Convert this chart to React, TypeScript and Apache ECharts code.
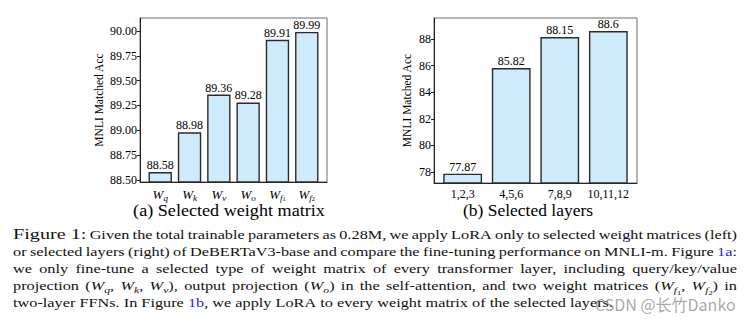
import React, { useEffect, useRef } from "react";
import * as echarts from "echarts";

// ---------- data ----------
const weightLabels = ["W_q", "W_k", "W_v", "W_o", "W_f1", "W_f2"];
const weightAcc = [88.58, 88.98, 89.36, 89.28, 89.91, 89.99];
const weightTicks = [88.5, 88.75, 89.0, 89.25, 89.5, 89.75, 90.0];

const layerLabels = ["1,2,3", "4,5,6", "7,8,9", "10,11,12"];
const layerAcc = [77.87, 85.82, 88.15, 88.6];
const layerTicks = [78, 80, 82, 84, 86, 88];

const yName = "MNLI Matched Acc";
const subtitleA = "(a) Selected weight matrix";
const subtitleB = "(b) Selected layers";
const watermark = "CSDN @长竹Danko";

const captionLines = [
  "{fig:Figure~1:} Given the total trainable parameters as 0.28M, we apply LoRA only to selected weight matrices (left)",
  "or selected layers (right) of DeBERTaV3-base and compare the fine-tuning performance on MNLI-m. Figure {link:1a}:",
  "we only fine-tune a selected type of weight matrix of every transformer layer, including query/key/value",
  "projection ({i:W}{sub:q}, {i:W}{sub:k}, {i:W}{sub:v}), output projection ({i:W}{sub:o}) in the self-attention, and two weight matrices ({i:W}{sub:f}{sub2:1}, {i:W}{sub:f}{sub2:2}) in",
  "two-layer FFNs. In Figure {link:1b}, we apply LoRA to every weight matrix of the selected layers.",
];

// ---------- helpers ----------
const SERIF = "Liberation Serif";

type SegKey = "n" | "fig" | "link" | "i" | "sub" | "sub2";
const segStyle: Record<SegKey, { size: number; italic: boolean; fill: string; dy: number }> = {
  n: { size: 12.5, italic: false, fill: "#111", dy: 0 },
  fig: { size: 15.5, italic: false, fill: "#111", dy: 0 },
  link: { size: 12.5, italic: false, fill: "#2222ee", dy: 0 },
  i: { size: 12.5, italic: true, fill: "#111", dy: 0 },
  sub: { size: 9, italic: true, fill: "#111", dy: 2.8 },
  sub2: { size: 6.5, italic: false, fill: "#111", dy: 4.8 },
};

function makeMeasure() {
  const canvas = document.createElement("canvas");
  const ctx = canvas.getContext("2d")!;
  return (t: string, size: number, italic = false) => {
    ctx.font = `${italic ? "italic " : ""}${size}px "${SERIF}"`;
    return ctx.measureText(t).width;
  };
}

function parseWord(w: string) {
  const segs: { k: SegKey; t: string }[] = [];
  const re = /\{(\w+):([^}]*)\}|([^{]+)/g;
  let m: RegExpExecArray | null;
  while ((m = re.exec(w))) {
    if (m[1]) segs.push({ k: m[1] as SegKey, t: m[2].replace(/~/g, " ") });
    else segs.push({ k: "n", t: m[3] });
  }
  return segs;
}

function buildCaption(): any[] {
  const mm = makeMeasure();
  const measure = (t: string, k: SegKey) => mm(t, segStyle[k].size, segStyle[k].italic);
  const left = 13;
  const right = 737;
  const lastWidthTarget = 600;
  const spaceW = measure(" ", "n");
  const lines = captionLines.map((l) =>
    l.split(" ").map((w) => {
      const segs = parseWord(w);
      const widths = segs.map((s) => measure(s.t, s.k));
      return { segs, widths, width: widths.reduce((a, b) => a + b, 0) };
    })
  );
  const last = lines[lines.length - 1];
  const lastNatural =
    last.reduce((a, w) => a + w.width, 0) + spaceW * (last.length - 1);
  const sx = lastWidthTarget / lastNatural;

  const els: any[] = [];
  lines.forEach((words, li) => {
    const baseline = 239 + li * 17.1;
    const total = words.reduce((a, w) => a + w.width, 0) * sx;
    const isLast = li === lines.length - 1;
    const gap = isLast ? spaceW * sx : (right - left - total) / (words.length - 1);
    let x = left;
    words.forEach((w) => {
      let sxPos = x;
      w.segs.forEach((s, si) => {
        const st = segStyle[s.k];
        els.push({
          type: "text",
          x: sxPos,
          y: baseline - 0.34 * st.size + st.dy,
          scaleX: sx,
          silent: true,
          style: {
            text: s.t,
            fontSize: st.size,
            fontFamily: SERIF,
            fontStyle: st.italic ? "italic" : "normal",
            fill: st.fill,
            align: "left",
            verticalAlign: "middle",
          },
        });
        sxPos += w.widths[si] * sx;
      });
      x += w.width * sx + gap;
    });
  });
  return els;
}

function subtitle(text: string, cx: number, targetWidth: number) {
  const mm = makeMeasure();
  const size = 16;
  const sx = targetWidth / mm(text, size);
  return {
    type: "text",
    x: cx,
    y: 211,
    scaleX: sx,
    silent: true,
    style: { text, fontSize: size, fontFamily: SERIF, fill: "#000", align: "center", verticalAlign: "middle" },
  };
}

function mathLabel(l: string) {
  const m = l.match(/^W_([a-z])(\d?)$/);
  if (!m) return l;
  return `{w|W}{s|${m[1]}}` + (m[2] ? `{ss|${m[2]}}` : "");
}

const barStyle = {
  color: "#cfeafb",
  borderColor: "#2b2b2b",
  borderWidth: 1.4,
};

export default function App() {
  const ref = useRef<HTMLDivElement>(null);

  useEffect(() => {
    if (!ref.current) return;
    const chart = echarts.init(ref.current, undefined, { renderer: "svg" });

    const leftGrid = { left: 140, top: 18, width: 187, height: 164 };
    const rightGrid = { left: 434, top: 18, width: 203, height: 165 };

    const commonGrid = {
      show: true,
      borderColor: "#6a6a6a",
      borderWidth: 1,
      backgroundColor: "transparent",
      containLabel: false,
    };

    const axisLineStyle = { show: true, onZero: false, lineStyle: { color: "#222", width: 1 } };

    const option: any = {
      animation: false,
      backgroundColor: "#fff",
      textStyle: { fontFamily: SERIF, color: "#000" },
      grid: [
        { ...commonGrid, ...leftGrid },
        { ...commonGrid, ...rightGrid },
      ],
      xAxis: [
        {
          type: "value",
          gridIndex: 0,
          min: -0.69,
          max: 5.69,
          splitLine: { show: false },
          axisLine: axisLineStyle,
          axisTick: { show: false },
          axisLabel: {
            customValues: weightLabels.map((_, i) => i),
            formatter: (v: number) => mathLabel(weightLabels[Math.round(v)] ?? ""),
            margin: 4,
            color: "#000",
            rich: {
              w: { fontSize: 13, fontStyle: "italic", fontFamily: SERIF, lineHeight: 16, verticalAlign: "middle", color: "#000" },
              s: { fontSize: 9, fontStyle: "italic", fontFamily: SERIF, lineHeight: 9, verticalAlign: "bottom", color: "#000" },
              ss: { fontSize: 6.5, fontFamily: SERIF, lineHeight: 6, verticalAlign: "bottom", color: "#000" },
            },
          },
        },
        {
          type: "value",
          gridIndex: 1,
          min: -0.59,
          max: 3.59,
          splitLine: { show: false },
          axisLine: axisLineStyle,
          axisTick: { show: false },
          axisLabel: {
            customValues: layerLabels.map((_, i) => i),
            formatter: (v: number) => layerLabels[Math.round(v)] ?? "",
            margin: 5,
            fontSize: 12,
            fontFamily: SERIF,
            color: "#000",
          },
        },
      ],
      yAxis: [
        {
          type: "value",
          gridIndex: 0,
          min: 88.48,
          max: 90.13,
          splitLine: { show: false },
          axisLine: axisLineStyle,
          axisTick: { show: true, length: 3, customValues: weightTicks, lineStyle: { color: "#222" } },
          axisLabel: {
            customValues: weightTicks,
            formatter: (v: number) => v.toFixed(2),
            fontSize: 12,
            fontFamily: SERIF,
            color: "#000",
            margin: 3,
          },
          name: yName,
          nameLocation: "middle",
          nameRotate: 90,
          nameGap: 35,
          nameTextStyle: { fontSize: 11.5, fontFamily: SERIF, color: "#000" },
        },
        {
          type: "value",
          gridIndex: 1,
          min: 77.17,
          max: 89.58,
          splitLine: { show: false },
          axisLine: axisLineStyle,
          axisTick: { show: true, length: 3, customValues: layerTicks, lineStyle: { color: "#222" } },
          axisLabel: {
            customValues: layerTicks,
            formatter: (v: number) => String(v),
            fontSize: 12,
            fontFamily: SERIF,
            color: "#000",
            margin: 3,
          },
          name: yName,
          nameLocation: "middle",
          nameRotate: 90,
          nameGap: 21,
          nameTextStyle: { fontSize: 11.5, fontFamily: SERIF, color: "#000" },
        },
      ],
      series: [
        {
          type: "bar",
          xAxisIndex: 0,
          yAxisIndex: 0,
          data: weightAcc.map((v, i) => [i, v]),
          barWidth: 23.4,
          clip: true,
          itemStyle: barStyle,
          label: {
            show: true,
            position: "top",
            distance: 1,
            fontSize: 12,
            fontFamily: SERIF,
            color: "#000",
            formatter: (p: any) => String(p.value[1]),
          },
        },
        {
          type: "bar",
          xAxisIndex: 1,
          yAxisIndex: 1,
          data: layerAcc.map((v, i) => [i, v]),
          barWidth: 38.8,
          clip: true,
          itemStyle: barStyle,
          label: {
            show: true,
            position: "top",
            distance: 1,
            fontSize: 12,
            fontFamily: SERIF,
            color: "#000",
            formatter: (p: any) => String(p.value[1]),
          },
        },
      ],
      graphic: {
        elements: [
          subtitle(subtitleA, 229, 192),
          subtitle(subtitleB, 528, 130),
          ...buildCaption(),
          {
            type: "text",
            x: 595,
            y: 304,
            silent: true,
            z: 100,
            style: {
              text: watermark,
              fontSize: 16,
              fontFamily: "Noto Sans CJK SC",
              fill: "rgba(120,120,120,0.65)",
              align: "left",
              verticalAlign: "middle",
            },
          },
        ],
      },
    };

    chart.setOption(option);
    return () => chart.dispose();
  }, []);

  return (
    <div
      ref={ref}
      style={{ position: "fixed", left: 0, top: 0, width: 753, height: 322, background: "#fff" }}
    />
  );
}
